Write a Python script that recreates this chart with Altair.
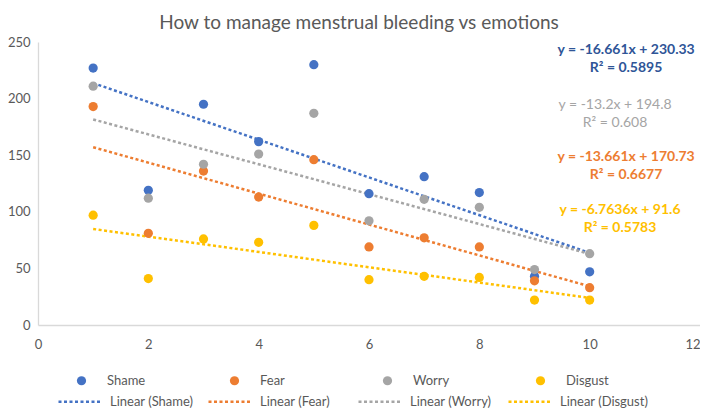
import altair as alt
import pandas as pd

# ---- data ----
x_vals = [1, 2, 3, 4, 5, 6, 7, 8, 9, 10]
series_names = ["Shame", "Fear", "Worry", "Disgust"]
shame = [227, 119, 195, 162, 230, 116, 131, 117, 43, 47]
fear = [193, 81, 136, 113, 146, 69, 77, 69, 39, 33]
worry = [211, 112, 142, 151, 187, 92, 111, 104, 49, 63]
disgust = [97, 41, 76, 73, 88, 40, 43, 42, 22, 22]

series_colors = ["#4472C4", "#ED7D31", "#A5A5A5", "#FFC000"]
trend_names = ["Linear (Shame)", "Linear (Fear)", "Linear (Worry)", "Linear (Disgust)"]

eq_texts = [
    "y = -16.661x + 230.33\nR² = 0.5895",
    "y = -13.2x + 194.8\nR² = 0.608",
    "y = -13.661x + 170.73\nR² = 0.6677",
    "y = -6.7636x + 91.6\nR² = 0.5783",
]
eq_colors = ["#2F5597", "#A5A5A5", "#ED7D31", "#FFC000"]
eq_bold = [True, False, True, True]
eq_x = [10.66, 10.46, 10.66, 10.55]
eq_y = [242.9, 194.3, 148.4, 101.6]

title_text = "How to manage menstrual bleeding vs emotions"

# ---- tables ----
values_by_series = [shame, fear, worry, disgust]
rows = []
for name, vals in zip(series_names, values_by_series):
    for xv, yv in zip(x_vals, vals):
        rows.append({"x": xv, "value": yv, "series": name})
df = pd.DataFrame(rows)

eq_df = pd.DataFrame({"text": eq_texts, "color": eq_colors, "bold": eq_bold,
                      "ex": eq_x, "ey": eq_y})

FONT = "Lato"
GREY_TXT = "#595959"

x_scale = alt.Scale(domain=[0, 12], nice=False)
y_scale = alt.Scale(domain=[0, 250], nice=False)

x_axis = alt.Axis(values=[0, 2, 4, 6, 8, 10, 12], title=None,
                  labelPadding=13, labelFlush=False, format="d",
                  labelAlign=alt.ExprRef("datum.value == 12 ? 'right' : 'center'"))
y_axis = alt.Axis(values=[0, 50, 100, 150, 200, 250], title=None,
                  labelPadding=8, format="d")

x_enc = alt.X("x:Q", scale=x_scale, axis=x_axis)
y_enc = alt.Y("value:Q", scale=y_scale, axis=y_axis)

base = alt.Chart(df)

lines = base.transform_regression(
    "x", "value", groupby=["series"], extent=[1, 10]
).transform_calculate(
    trend="'Linear (' + datum.series + ')'"
).mark_line(strokeDash=[3, 2.5], strokeWidth=2.5).encode(
    x=x_enc,
    y=y_enc,
    stroke=alt.Stroke(
        "trend:N",
        scale=alt.Scale(domain=trend_names, range=series_colors),
        sort=trend_names,
        legend=alt.Legend(
            title=None, orient="none", direction="horizontal", columns=4,
            legendX=19, legendY=336, symbolType="stroke", symbolSize=1936,
            symbolDash=[3, 2.5], symbolStrokeWidth=2.5, labelOffset=6,
            gridAlign="all", columnPadding=4, labelFont=FONT, labelFontSize=13,
            labelColor=GREY_TXT, padding=0,
        ),
    ),
    detail="series:N",
)

points = base.transform_calculate(
    ord="indexof(['Shame','Fear','Worry','Disgust'], datum.series)"
).mark_circle(size=85, opacity=1).encode(
    x=x_enc,
    y=y_enc,
    fill=alt.Fill(
        "series:N",
        scale=alt.Scale(domain=series_names, range=series_colors),
        sort=series_names,
        legend=alt.Legend(
            title=None, orient="none", direction="horizontal", columns=4,
            legendX=37, legendY=332, symbolType="circle", symbolSize=85,
            labelOffset=19, gridAlign="all", columnPadding=78,
            labelFont=FONT, labelFontSize=13, labelColor=GREY_TXT, padding=0,
        ),
    ),
    order=alt.Order("ord:Q"),
)

eq_base = alt.Chart(eq_df).encode(
    x=alt.X("ex:Q", scale=x_scale, axis=x_axis),
    y=alt.Y("ey:Q", scale=y_scale, axis=y_axis),
    text="text:N",
    color=alt.Color("color:N", scale=None),
)
eq_bold_layer = eq_base.transform_filter("datum.bold").mark_text(
    font=FONT, fontSize=14, fontWeight="bold", lineBreak="\n", lineHeight=18,
    align="center", baseline="middle",
)
eq_norm_layer = eq_base.transform_filter("!datum.bold").mark_text(
    font=FONT, fontSize=14, fontWeight="normal", lineBreak="\n", lineHeight=18,
    align="center", baseline="middle",
)

chart = alt.layer(lines, points, eq_bold_layer, eq_norm_layer).resolve_scale(
    color="independent"
).properties(
    width=662,
    height=283,
    background="white",
    autosize=alt.AutoSizeParams(type="none"),
    padding={"left": 30, "top": 34, "right": 0, "bottom": 84},
    title=alt.Title(title_text, anchor="middle", frame="group", dx=-10, dy=16,
                    offset=4, baseline="alphabetic", font=FONT, fontSize=19,
                    fontWeight="normal", color=GREY_TXT),
).configure_view(
    stroke=None
).configure_axis(
    domainColor="#D9D9D9", domainWidth=1.3, ticks=False, grid=False,
    labelColor=GREY_TXT, labelFont=FONT, labelFontSize=13,
)

chart.save("out.html", embed_options={"renderer": "svg", "actions": False})
